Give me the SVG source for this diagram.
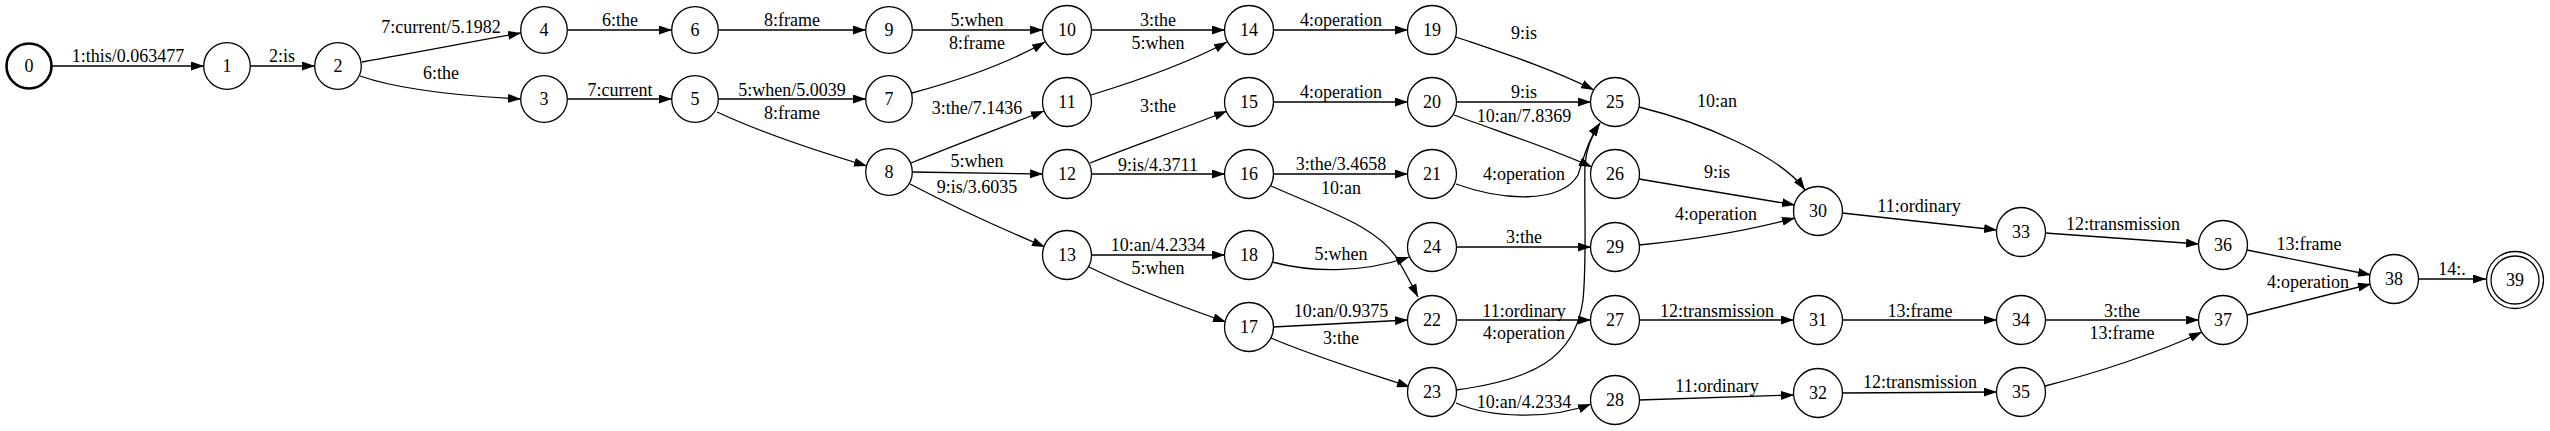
<svg xmlns="http://www.w3.org/2000/svg" width="2550" height="431" viewBox="0 0 2550 431">
<style>
.n circle{fill:#fff;stroke:#000;stroke-width:1.3}
.n text{font-family:"Liberation Serif","Times New Roman",serif;font-size:18px;text-anchor:middle}
.e path{fill:none;stroke:#000;stroke-width:1.3;marker-end:url(#ah)}
.e text{font-family:"Liberation Serif","Times New Roman",serif;font-size:18px;text-anchor:middle}
</style>
<defs>
<marker id="ah" viewBox="0 0 13 9" refX="13" refY="4.5" markerWidth="13" markerHeight="9" markerUnits="userSpaceOnUse" orient="auto">
<path d="M0,0 L13,4.5 L0,9 z" fill="#000"/>
</marker>
</defs>
<rect width="2550" height="431" fill="#fff"/>
<g id="edges" class="e">
<path d="M52,66 L204,66"/><text x="128" y="62">1:this/0.063477</text>
<path d="M250,66 L315,66"/><text x="282" y="62">2:is</text>
<path d="M362,62 C420,52 470,42 521,33"/><text x="441" y="33">7:current/5.1982</text>
<path d="M360,76 C400,90 460,96 521,99"/><text x="441" y="79">6:the</text>
<path d="M568,30 L672,30"/><text x="620" y="26">6:the</text>
<path d="M568,99 L672,99"/><text x="620" y="96">7:current</text>
<path d="M718,30 L866,30"/><text x="792" y="26">8:frame</text>
<path d="M718,99 L866,99"/><text x="792" y="96">5:when/5.0039</text>
<path d="M717,112 C760,132 820,152 867,166"/><text x="792" y="119">8:frame</text>
<path d="M912,30 L1043,30"/><text x="977" y="26">5:when</text>
<path d="M912,93 C960,80 1010,62 1045,42"/><text x="977" y="49">8:frame</text>
<path d="M1091,30 L1225,30"/><text x="1158" y="26">3:the</text>
<path d="M1091,95 C1140,80 1190,62 1227,42"/><text x="1158" y="49">5:when</text>
<path d="M911,163 C955,145 1000,128 1044,111"/><text x="977" y="114">3:the/7.1436</text>
<path d="M912,172 L1043,174"/><text x="977" y="167">5:when</text>
<path d="M910,184 C950,205 1000,228 1045,247"/><text x="977" y="193">9:is/3.6035</text>
<path d="M1090,163 C1135,145 1185,128 1227,111"/><text x="1158" y="112">3:the</text>
<path d="M1092,174 L1225,174"/><text x="1158" y="171">9:is/4.3711</text>
<path d="M1092,255 L1225,255"/><text x="1158" y="251">10:an/4.2334</text>
<path d="M1089,267 C1130,287 1180,306 1226,322"/><text x="1158" y="274">5:when</text>
<path d="M1273,30 L1408,30"/><text x="1341" y="26">4:operation</text>
<path d="M1273,102 L1408,102"/><text x="1341" y="98">4:operation</text>
<path d="M1273,174 L1408,174"/><text x="1341" y="170">3:the/3.4658</text>
<path d="M1271,186 C1330,212 1380,228 1398,260 C1406,274 1412,285 1418,297"/><text x="1341" y="194">10:an</text>
<path d="M1272,262 C1310,272 1360,274 1409,257"/><text x="1341" y="260">5:when</text>
<path d="M1273,327 L1408,320"/><text x="1341" y="317">10:an/0.9375</text>
<path d="M1271,338 C1310,355 1365,372 1410,387"/><text x="1341" y="344">3:the</text>
<path d="M1456,37 C1500,52 1550,68 1594,90"/><text x="1524" y="39">9:is</text>
<path d="M1456,102 L1591,102"/><text x="1524" y="98">9:is</text>
<path d="M1454,115 C1500,132 1550,148 1592,167"/><text x="1524" y="122">10:an/7.8369</text>
<path d="M1456,184 C1500,200 1560,205 1578,175 C1583,160 1588,140 1600,123"/><text x="1524" y="180">4:operation</text>
<path d="M1456,390 C1530,380 1575,360 1583,300 C1587,260 1584,200 1585,165 C1586,150 1592,135 1600,123"/><text x="1524" y="339">4:operation</text>
<path d="M1456,247 L1591,247"/><text x="1524" y="243">3:the</text>
<path d="M1456,320 L1591,320"/><text x="1524" y="317">11:ordinary</text>
<path d="M1456,403 C1490,418 1550,420 1591,404"/><text x="1524" y="408">10:an/4.2334</text>
<path d="M1639,107 C1700,122 1780,155 1805,190"/><text x="1717" y="107">10:an</text>
<path d="M1639,179 C1690,188 1750,197 1795,205"/><text x="1717" y="178">9:is</text>
<path d="M1639,245 C1690,240 1750,230 1795,218"/><text x="1716" y="220">4:operation</text>
<path d="M1639,320 L1794,320"/><text x="1717" y="317">12:transmission</text>
<path d="M1639,400 L1794,395"/><text x="1717" y="392">11:ordinary</text>
<path d="M1842,213 L1997,230"/><text x="1919" y="212">11:ordinary</text>
<path d="M1842,320 L1997,320"/><text x="1920" y="317">13:frame</text>
<path d="M1842,393 L1997,392"/><text x="1920" y="388">12:transmission</text>
<path d="M2045,233 L2199,244"/><text x="2123" y="230">12:transmission</text>
<path d="M2045,320 L2199,320"/><text x="2122" y="317">3:the</text>
<path d="M2045,386 C2100,372 2160,352 2202,332"/><text x="2122" y="339">13:frame</text>
<path d="M2247,250 L2371,275"/><text x="2309" y="250">13:frame</text>
<path d="M2247,315 L2371,284"/><text x="2308" y="288">4:operation</text>
<path d="M2418,279 L2486,279"/><text x="2452" y="275">14:.</text>
</g>
<g id="n0" class="n"><circle cx="29" cy="66" r="22.5" stroke-width="2.6" style="stroke-width:2.6"/><text x="29" y="72">0</text></g>
<g id="n1" class="n"><circle cx="227" cy="66" r="23.3"/><text x="227" y="72">1</text></g>
<g id="n2" class="n"><circle cx="338" cy="66" r="23.3"/><text x="338" y="72">2</text></g>
<g id="n3" class="n"><circle cx="544" cy="99" r="23.3"/><text x="544" y="105">3</text></g>
<g id="n4" class="n"><circle cx="544" cy="30" r="23.3"/><text x="544" y="36">4</text></g>
<g id="n5" class="n"><circle cx="695" cy="99" r="23.3"/><text x="695" y="105">5</text></g>
<g id="n6" class="n"><circle cx="695" cy="30" r="23.3"/><text x="695" y="36">6</text></g>
<g id="n7" class="n"><circle cx="889" cy="99" r="23.3"/><text x="889" y="105">7</text></g>
<g id="n8" class="n"><circle cx="889" cy="172" r="23.3"/><text x="889" y="178">8</text></g>
<g id="n9" class="n"><circle cx="889" cy="30" r="23.3"/><text x="889" y="36">9</text></g>
<g id="n10" class="n"><circle cx="1067" cy="30" r="24.5"/><text x="1067" y="36">10</text></g>
<g id="n11" class="n"><circle cx="1067" cy="102" r="24.5"/><text x="1067" y="108">11</text></g>
<g id="n12" class="n"><circle cx="1067" cy="174" r="24.5"/><text x="1067" y="180">12</text></g>
<g id="n13" class="n"><circle cx="1067" cy="255" r="24.5"/><text x="1067" y="261">13</text></g>
<g id="n14" class="n"><circle cx="1249" cy="30" r="24.5"/><text x="1249" y="36">14</text></g>
<g id="n15" class="n"><circle cx="1249" cy="102" r="24.5"/><text x="1249" y="108">15</text></g>
<g id="n16" class="n"><circle cx="1249" cy="174" r="24.5"/><text x="1249" y="180">16</text></g>
<g id="n17" class="n"><circle cx="1249" cy="327" r="24.5"/><text x="1249" y="333">17</text></g>
<g id="n18" class="n"><circle cx="1249" cy="255" r="24.5"/><text x="1249" y="261">18</text></g>
<g id="n19" class="n"><circle cx="1432" cy="30" r="24.5"/><text x="1432" y="36">19</text></g>
<g id="n20" class="n"><circle cx="1432" cy="102" r="24.5"/><text x="1432" y="108">20</text></g>
<g id="n21" class="n"><circle cx="1432" cy="174" r="24.5"/><text x="1432" y="180">21</text></g>
<g id="n22" class="n"><circle cx="1432" cy="320" r="24.5"/><text x="1432" y="326">22</text></g>
<g id="n23" class="n"><circle cx="1432" cy="392" r="24.5"/><text x="1432" y="398">23</text></g>
<g id="n24" class="n"><circle cx="1432" cy="247" r="24.5"/><text x="1432" y="253">24</text></g>
<g id="n25" class="n"><circle cx="1615" cy="102" r="24.5"/><text x="1615" y="108">25</text></g>
<g id="n26" class="n"><circle cx="1615" cy="174" r="24.5"/><text x="1615" y="180">26</text></g>
<g id="n27" class="n"><circle cx="1615" cy="320" r="24.5"/><text x="1615" y="326">27</text></g>
<g id="n28" class="n"><circle cx="1615" cy="400" r="24.5"/><text x="1615" y="406">28</text></g>
<g id="n29" class="n"><circle cx="1615" cy="247" r="24.5"/><text x="1615" y="253">29</text></g>
<g id="n30" class="n"><circle cx="1818" cy="211" r="24.5"/><text x="1818" y="217">30</text></g>
<g id="n31" class="n"><circle cx="1818" cy="320" r="24.5"/><text x="1818" y="326">31</text></g>
<g id="n32" class="n"><circle cx="1818" cy="393" r="24.5"/><text x="1818" y="399">32</text></g>
<g id="n33" class="n"><circle cx="2021" cy="232" r="24.5"/><text x="2021" y="238">33</text></g>
<g id="n34" class="n"><circle cx="2021" cy="320" r="24.5"/><text x="2021" y="326">34</text></g>
<g id="n35" class="n"><circle cx="2021" cy="392" r="24.5"/><text x="2021" y="398">35</text></g>
<g id="n36" class="n"><circle cx="2223" cy="245" r="24.5"/><text x="2223" y="251">36</text></g>
<g id="n37" class="n"><circle cx="2223" cy="320" r="24.5"/><text x="2223" y="326">37</text></g>
<g id="n38" class="n"><circle cx="2394" cy="279" r="24.5"/><text x="2394" y="285">38</text></g>
<g id="n39" class="n"><circle cx="2515" cy="280" r="28.5"/><circle cx="2515" cy="280" r="24"/><text x="2515" y="286">39</text></g>
</svg>
